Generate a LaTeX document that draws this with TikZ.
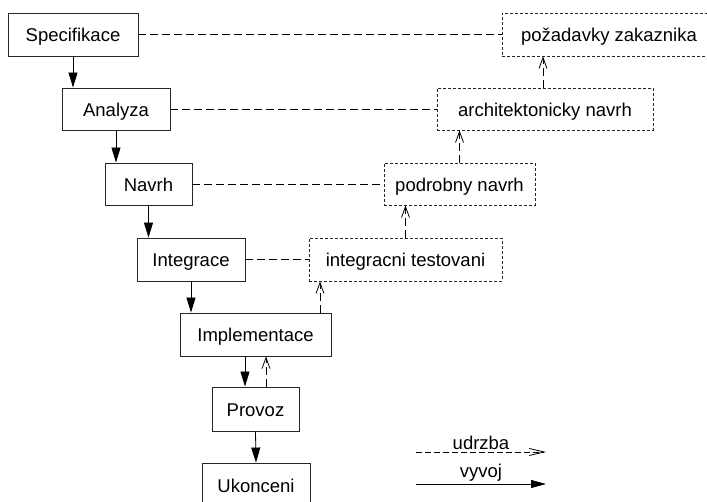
\documentclass[tikz,border=0pt]{standalone}
\usepackage{fontspec}
\setmainfont{Liberation Sans}
\usetikzlibrary{arrows.meta}
\begin{document}
\begin{tikzpicture}[x=1pt,y=-1pt,
  font=\fontsize{18.5}{21}\selectfont,
  phase/.style={draw=black!85, line width=0.9pt, fill=white, inner sep=0pt, anchor=center, text height=15pt, text depth=0pt},
  check/.style={draw=black!85, line width=0.8pt, dash pattern=on 3pt off 2pt, fill=white, inner sep=0pt, anchor=center, text height=15pt, text depth=0pt},
  flow/.style={line width=0.8pt, -{Triangle[length=15pt,width=9pt]}},
  back/.style={line width=0.8pt, dash pattern=on 8pt off 4pt, -{Straight Barb[length=11pt,width=8pt,line width=0.8pt]}},
  link/.style={line width=0.8pt, dash pattern=on 8pt off 4pt},
]
\useasboundingbox (0,0) rectangle (707,502);
\clip (0,0) rectangle (707,502);
\fill[white] (0,0) rectangle (707,502);

% development phases (left staircase)
\node[phase, minimum width=130pt, minimum height=43pt] (spec) at (73,34.5) {Specifikace};
\node[phase, minimum width=108pt, minimum height=42pt] (anal) at (116,109) {Analyza};
\node[phase, minimum width=87pt, minimum height=42pt] (navrh) at (148.5,184) {Navrh};
\node[phase, minimum width=108pt, minimum height=43pt] (integ) at (191,259.5) {Integrace};
\node[phase, minimum width=151pt, minimum height=43pt] (impl) at (255.5,334.5) {Implementace};
\node[phase, minimum width=87pt, minimum height=44pt] (provoz) at (255.5,409) {Provoz};
\node[phase, minimum width=108pt, minimum height=43pt] (ukon) at (256,484.5) {Ukonceni};

% verification counterparts (right staircase)
\node[check, minimum width=214pt, minimum height=43pt] (poz) at (609,34.5) {požadavky zakaznika};
\node[check, minimum width=216pt, minimum height=42pt] (arch) at (545,109) {architektonicky navrh};
\node[check, minimum width=151pt, minimum height=42pt] (podr) at (459.5,184) {podrobny navrh};
\node[check, minimum width=193pt, minimum height=43pt] (intt) at (405.5,259.5) {integracni testovani};

% downward development flow
\draw[flow] (spec.south) -- (spec.south |- anal.north);
\draw[flow] (anal.south) -- (anal.south |- navrh.north);
\draw[flow] (navrh.south) -- (navrh.south |- integ.north);
\draw[flow] (integ.south) -- (integ.south |- impl.north);
\draw[flow] ([xshift=-10.5pt]impl.south) -- ([xshift=-10.5pt]impl.south |- provoz.north);
\draw[flow] (provoz.south) -- (ukon.north);

% upward maintenance flow
\draw[back] ([xshift=10.5pt]provoz.north) -- ([xshift=10.5pt]provoz.north |- impl.south);
\coordinate (i1) at (320,313);
\draw[back] (i1) -- (i1 |- intt.south);
\draw[back] (intt.north) -- (intt.north |- podr.south);
\draw[back] (podr.north) -- (podr.north |- arch.south);
\coordinate (a1) at (543,88);
\draw[back] (a1) -- (a1 |- poz.south);

% horizontal correspondence links
\draw[link] (spec.east) -- (poz.west);
\draw[link] (anal.east) -- (arch.west);
\draw[link] (navrh.east) -- (podr.west);
\draw[link] (integ.east) -- (intt.west);

% legend
\coordinate (la) at (416,452);
\coordinate (lb) at (546,452);
\coordinate (lc) at (416,484);
\coordinate (ld) at (546,484);
\draw[line width=0.8pt, dash pattern=on 6pt off 3pt, -{Straight Barb[length=15pt,width=7pt,line width=0.8pt]}] (la) -- node[above, inner sep=2pt] (lu) {udrzba} (lb);
\draw[line width=0.8pt, -{Triangle[length=15pt,width=8pt]}] (lc) -- node[above, inner sep=2pt] (lv) {vyvoj} (ld);
\end{tikzpicture}
\end{document}
